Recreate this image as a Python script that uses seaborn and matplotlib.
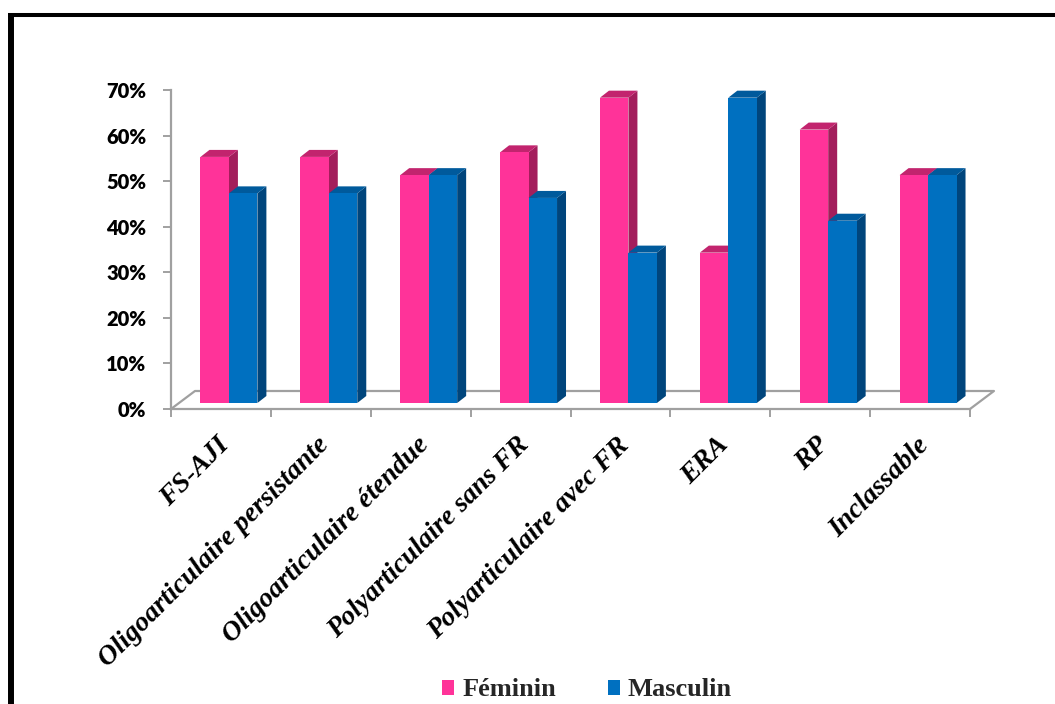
import matplotlib
matplotlib.use("Agg")
import matplotlib.pyplot as plt
import seaborn as sns
import pandas as pd
from matplotlib.patches import Polygon, Patch
from matplotlib.lines import Line2D
from matplotlib import transforms

# Distribution by sex for each clinical form (percent)
formes = ["FS-AJI", "Oligoarticulaire persistante", "Oligoarticulaire étendue",
          "Polyarticulaire sans FR", "Polyarticulaire avec FR", "ERA", "RP", "Inclassable"]
feminin = [54, 54, 50, 55, 67, 33, 60, 50]
masculin = [46, 46, 50, 45, 33, 67, 40, 50]
sexes = ["Féminin", "Masculin"]
y_ticks = [0, 10, 20, 30, 40, 50, 60, 70]

front_colors = {"Féminin": "#FF3399", "Masculin": "#0070C0"}
side_colors = {"Féminin": "#A31E5C", "Masculin": "#00457C"}
top_colors = {"Féminin": "#C2246E", "Masculin": "#005A9C"}
axis_grey = "#A0A0A0"

df = pd.DataFrame({
    "Forme": formes * 2,
    "Sexe": [sexes[0]] * len(formes) + [sexes[1]] * len(formes),
    "Pourcentage": feminin + masculin,
})

sns.set_theme(style="white")

W, H = 1055, 704
fig = plt.figure(figsize=(W / 100, H / 100), dpi=100)
fig.patch.set_facecolor("white")


def px_box(x0, y_top, x1, y_bottom):
    """Axes rectangle from pixel coordinates measured from the top-left corner."""
    return [x0 / W, 1 - y_bottom / H, (x1 - x0) / W, (y_bottom - y_top) / H]


# Front plane: axis, ticks and floor outline
ax = fig.add_axes(px_box(171, 90, 970, 409))
# Bar plane, set a little deeper into the floor
axb = fig.add_axes(px_box(179, 84, 978, 403))

for a in (ax, axb):
    a.set_xlim(-0.5, len(formes) - 0.5)
    a.set_ylim(0, 70)
    a.patch.set_alpha(0)

sns.barplot(data=df, x="Forme", y="Pourcentage", hue="Sexe", order=formes,
            hue_order=sexes, palette=front_colors, saturation=1, width=0.57,
            errorbar=None, legend=False, linewidth=0, ax=axb)
axb.set_xlim(-0.5, len(formes) - 0.5)
axb.set_ylim(0, 70)
axb.axis("off")

# Depth of each bar: 9 px across, 7 px up
dx = 9 / 100
dy = 7 * 70 / 319
for i, sexe in enumerate(sexes):
    for bar in axb.containers[i]:
        x0 = bar.get_x()
        x1 = x0 + bar.get_width()
        h = bar.get_height()
        bar.set_zorder(3 + 2 * i)
        side = Polygon([(x1, 0), (x1, h), (x1 + dx, h + dy), (x1 + dx, dy)],
                       closed=True, facecolor=side_colors[sexe], edgecolor="none",
                       zorder=2 + 2 * i, clip_on=False)
        top = Polygon([(x0, h), (x1, h), (x1 + dx, h + dy), (x0 + dx, h + dy)],
                      closed=True, facecolor=top_colors[sexe], edgecolor="none",
                      zorder=2 + 2 * i, clip_on=False)
        axb.add_patch(side)
        axb.add_patch(top)

# Axis styling on the front plane
for name, sp in ax.spines.items():
    sp.set_visible(name in ("left", "bottom"))
    sp.set_color(axis_grey)
    sp.set_linewidth(1.6)

n = len(formes)
fdx, fdy = 0.24, 18 * 70 / 319
ax.plot([-0.5, -0.5 + fdx, n - 0.5 + fdx, n - 0.5], [0, fdy, fdy, 0],
        color=axis_grey, lw=1.6, clip_on=False, zorder=1)

ax.set_yticks(y_ticks)
ax.set_yticklabels([f"{v}%" for v in y_ticks])
ax.tick_params(axis="y", left=True, length=5.8, width=1.4, color=axis_grey,
               pad=12, labelsize=14.5, labelcolor="black")
for lbl in ax.get_yticklabels():
    lbl.set_fontfamily("Lato")
    lbl.set_fontweight("heavy")

ax.set_xticks(range(n))
ax.set_xticklabels(formes)
ax.set_xticks([k - 0.5 for k in range(n + 1)], minor=True)
ax.tick_params(axis="x", which="major", bottom=True, length=0, pad=17,
               labelcolor="black")
ax.tick_params(axis="x", which="minor", bottom=True, length=5.8, width=1.4,
               color=axis_grey, direction="out")
shift = transforms.ScaledTranslation(-4 / 100, 0, fig.dpi_scale_trans)
for lbl in ax.get_xticklabels():
    lbl.set_fontfamily("Liberation Serif")
    lbl.set_fontweight("bold")
    lbl.set_fontstyle("italic")
    lbl.set_fontsize(20)
    lbl.set_rotation(45)
    lbl.set_rotation_mode("anchor")
    lbl.set_ha("right")
    lbl.set_va("top")
    lbl.set_transform(lbl.get_transform() + shift)

ax.set_xlabel("")
ax.set_ylabel("")
axb.set_xlabel("")
axb.set_ylabel("")

# Legend along the bottom
handles = [Patch(facecolor=front_colors[s], edgecolor="none") for s in sexes]
fig.legend(handles=handles, labels=sexes, loc="center",
           bbox_to_anchor=(587 / W, 1 - 690 / H), ncol=2, frameon=False,
           prop=dict(family="Liberation Serif", weight="bold", size=19),
           handlelength=0.46, handleheight=0.5, handletextpad=0.3,
           columnspacing=1.95, borderaxespad=0, borderpad=0)

# Outer frame
fig.add_artist(Line2D([11 / W, 11 / W], [0, 1 - 13 / H], transform=fig.transFigure,
                      color="black", lw=4.3, solid_capstyle="butt"))
fig.add_artist(Line2D([8 / W, 1], [1 - 15 / H, 1 - 15 / H], transform=fig.transFigure,
                      color="black", lw=2.9, solid_capstyle="butt"))

fig.savefig("out.png", dpi=100)
